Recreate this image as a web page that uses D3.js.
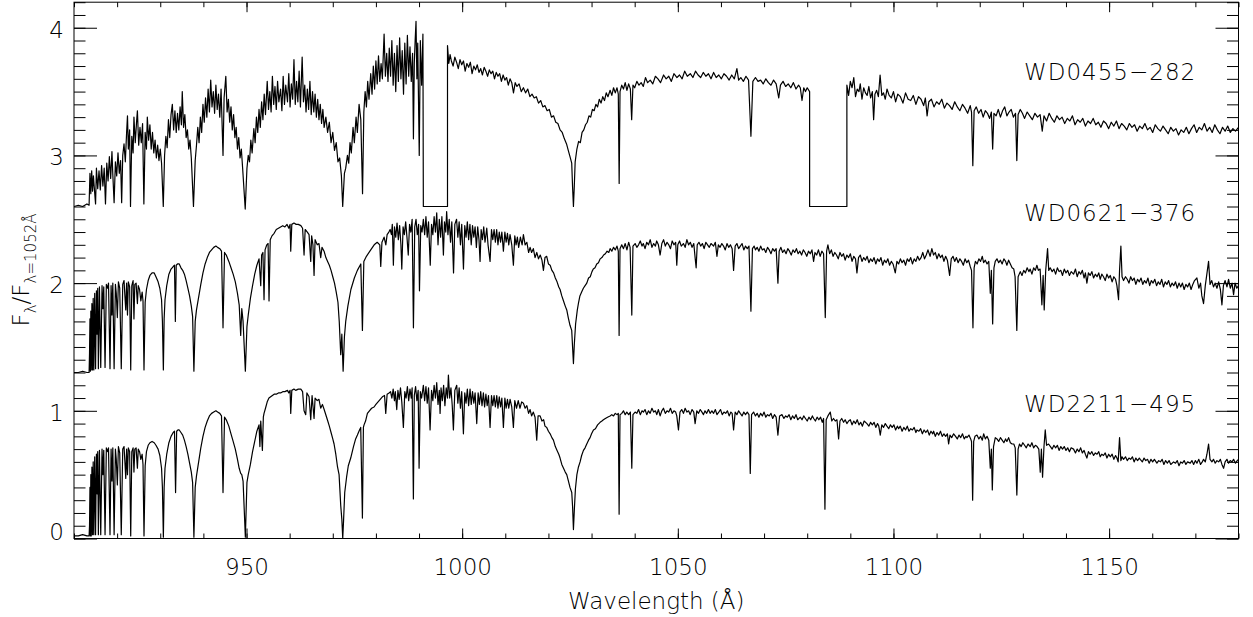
<!DOCTYPE html>
<html>
<head>
<meta charset="utf-8">
<script src="https://cdn.jsdelivr.net/npm/d3@7"></script>
<style>
  html, body { margin: 0; padding: 0; background: #fff; }
  svg { display: block; }
  text { font-family: "DejaVu Sans", sans-serif; font-weight: 200; fill: #000; }
</style>
</head>
<body>
<script>
// wavelength (A), normalised flux
const wd0455 = [
  [910.0,2.60],[911.0,2.61],[912.0,2.60],[913.0,2.62],[913.5,2.61],
  [913.7,2.86],[913.9,2.70],[914.1,2.88],[914.3,2.72],[914.5,2.84],[914.7,2.75],[915.0,2.62],[915.2,2.90],[915.5,2.74],[915.8,2.88],[916.1,2.73],[916.4,2.92],[916.7,2.76],[917.0,2.90],[917.3,2.62],[917.6,2.94],[917.9,2.80],[918.2,2.99],[918.5,2.82],[918.8,3.03],[919.0,2.85],[919.3,2.63],[919.6,2.95],[919.9,2.84],[920.2,3.02],[920.5,2.86],[920.8,2.96],[921.05,2.63],[921.3,3.00],[921.6,3.09],[921.9,2.95],[922.2,3.18],[922.4,3.31],[922.6,3.05],[922.9,3.20],[923.1,2.60],[923.4,3.15],[923.7,3.02],[923.9,3.30],[924.2,3.10],[924.5,3.26],[924.7,3.35],[925.0,3.08],[925.3,3.22],[925.6,3.10],[925.9,3.25],[926.2,2.62],[926.5,3.18],[926.8,3.05],[927.0,3.30],[927.3,3.12],[927.6,3.24],[927.9,3.05],[928.2,3.18],[928.5,3.02],[928.8,3.12],[929.1,2.98],[929.4,3.08],[929.7,2.96],[930.0,3.05],[930.3,2.94],[930.7,2.60],
  [931.0,3.00],[931.3,3.15],[931.6,3.06],[931.9,3.28],[932.2,3.14],[932.5,3.32],[932.8,3.40],[933.1,3.20],[933.4,3.35],[933.7,3.18],[934.0,3.33],[934.3,3.20],[934.6,3.38],[934.9,3.24],[935.1,3.50],[935.4,3.22],[935.7,3.32],[936.0,3.14],[936.3,3.20],[936.6,3.05],[936.9,3.12],[937.2,2.98],[937.7,2.60],
  [938.1,2.96],[938.4,3.08],[938.7,3.22],[939.0,3.10],[939.3,3.30],[939.6,3.18],[939.9,3.40],[940.2,3.26],[940.5,3.45],[940.8,3.30],[941.1,3.52],[941.4,3.34],[941.7,3.59],[942.0,3.38],[942.3,3.50],[942.6,3.33],[942.9,3.55],[943.2,3.36],[943.5,3.48],[943.8,3.30],[944.1,3.52],[944.55,3.00],[944.8,3.45],[945.2,3.62],[945.5,3.34],[945.8,3.44],[946.1,3.26],[946.4,3.38],[946.7,3.20],[947.0,3.32],[947.3,3.14],[947.6,3.22],[947.9,3.05],[948.2,3.14],[948.5,2.98],[948.8,3.05],[949.1,2.90],[949.7,2.58],
  [950.1,2.90],[950.4,3.00],[950.7,2.95],[951.0,3.12],[951.3,3.02],[951.7,3.21],[952.0,3.10],[952.3,3.30],[952.6,3.18],[952.9,3.36],[953.2,3.22],[953.5,3.42],[953.8,3.28],[954.1,3.48],[954.4,3.32],[954.8,3.58],[955.1,3.36],[955.4,3.50],[955.7,3.34],[956.0,3.62],[956.3,3.40],[956.6,3.54],[956.9,3.36],[957.2,3.58],[957.5,3.42],[957.9,3.52],[958.2,3.35],[958.5,3.62],[958.8,3.40],[959.1,3.55],[959.5,3.42],[959.8,3.64],[960.1,3.38],[960.4,3.56],[960.7,3.44],[961.0,3.75],[961.3,3.40],[961.6,3.58],[961.9,3.42],[962.2,3.66],[962.5,3.38],[962.9,3.77],[963.2,3.42],[963.5,3.55],[963.8,3.34],[964.1,3.52],[964.4,3.36],[964.7,3.58],[965.0,3.32],[965.3,3.50],[965.6,3.34],[965.9,3.48],[966.2,3.30],[966.5,3.44],[966.8,3.28],[967.1,3.40],[967.4,3.25],[967.7,3.36],[968.0,3.22],[968.4,3.30],[968.8,3.18],[969.2,3.26],[969.6,3.10],[970.0,3.18],[970.4,3.04],[970.8,3.10],[971.2,2.95],[971.6,2.98],[972.0,2.84],[972.3,2.60],
  [972.7,2.86],[973.0,2.90],[973.4,3.00],[973.7,2.94],[974.0,3.10],[974.3,3.02],[974.7,3.22],[975.0,3.10],[975.4,3.30],[975.7,3.18],[976.1,3.40],[976.5,3.28],[976.9,2.70],[977.2,3.34],[977.5,3.50],[977.8,3.38],[978.1,3.58],[978.4,3.44],[978.8,3.64],[979.1,3.48],[979.4,3.70],[979.7,3.52],[980.0,3.74],[980.3,3.56],[980.6,3.78],[980.9,3.58],[981.2,3.72],[981.5,3.60],[981.9,3.95],[982.2,3.62],[982.5,3.80],[982.8,3.58],[983.1,3.84],[983.4,3.62],[983.7,3.90],[984.0,3.55],[984.3,3.80],[984.6,3.50],[984.9,3.86],[985.2,3.58],[985.5,3.92],[985.8,3.60],[986.1,3.82],[986.4,3.48],[986.7,3.88],[987.0,3.56],[987.3,3.94],[987.6,3.62],[987.9,3.85],[988.2,3.58],[988.5,3.80],[988.7,3.13],[988.9,3.72],[989.1,3.90],[989.3,4.05],[989.5,3.60],[989.7,3.88],[990.05,3.00],[990.3,3.90],[990.6,3.55],[990.9,3.95],
  [991.0,2.60],[996.6,2.60],[996.6,3.86],
  [996.9,3.72],[997.2,3.79],[997.5,3.74],[997.9,3.70],[998.3,3.77],[998.7,3.73],[999.1,3.68],[999.5,3.75],[999.9,3.71],[1000.3,3.74],[1000.7,3.66],[1001.1,3.72],[1001.5,3.69],[1001.9,3.73],[1002.3,3.64],[1002.7,3.70],[1003.1,3.67],[1003.5,3.71],[1003.9,3.65],[1004.3,3.68],[1004.7,3.63],[1005.1,3.69],[1005.5,3.66],[1005.9,3.62],[1006.3,3.67],[1006.7,3.64],[1007.1,3.66],[1007.5,3.60],[1007.9,3.65],[1008.3,3.62],[1008.7,3.64],[1009.1,3.58],[1009.5,3.63],[1009.9,3.59],[1010.3,3.61],[1010.7,3.55],[1011.1,3.60],[1011.5,3.57],[1011.9,3.49],[1012.3,3.57],[1012.7,3.54],[1013.2,3.56],[1013.7,3.50],[1014.2,3.53],[1014.7,3.49],[1015.2,3.52],[1015.7,3.46],[1016.2,3.48],[1016.7,3.45],[1017.2,3.46],[1017.7,3.41],[1018.2,3.43],[1018.7,3.38],[1019.2,3.39],[1019.7,3.35],[1020.2,3.36],[1020.7,3.30],[1021.2,3.31],[1021.7,3.26],[1022.2,3.25],[1022.7,3.20],[1023.2,3.18],[1023.7,3.13],[1024.2,3.09],[1024.6,3.04],[1025.0,2.99],[1025.4,2.94],[1025.6,2.75],[1025.8,2.60],[1026.0,2.76],[1026.2,2.95],
  [1026.6,3.05],[1027.0,3.11],[1027.4,3.10],[1027.8,3.18],[1028.2,3.20],[1028.6,3.24],[1029.0,3.26],[1029.4,3.31],[1029.8,3.30],[1030.2,3.36],[1030.6,3.35],[1031.0,3.40],[1031.4,3.38],[1031.8,3.44],[1032.2,3.41],[1032.6,3.46],[1033.0,3.43],[1033.4,3.49],[1033.8,3.46],[1034.3,3.51],[1034.7,3.47],[1035.1,3.53],[1035.5,3.49],[1035.9,3.53],[1036.2,3.48],[1036.4,2.78],[1036.6,3.50],[1037.0,3.55],[1037.4,3.52],[1037.8,3.57],[1038.2,3.51],[1038.6,3.56],[1039.0,3.52],[1039.3,3.28],[1039.6,3.55],
  [1040.0,3.53],[1040.5,3.58],[1041.0,3.55],[1041.5,3.57],[1042.0,3.54],[1042.5,3.61],[1043.0,3.57],[1043.6,3.59],[1044.2,3.56],[1044.8,3.62],[1045.4,3.60],[1046.0,3.57],[1046.7,3.63],[1047.3,3.60],[1047.9,3.62],[1048.5,3.58],[1049.1,3.64],[1049.8,3.61],[1050.4,3.63],[1051.0,3.60],[1051.6,3.66],[1052.2,3.62],[1052.9,3.64],[1053.5,3.61],[1054.1,3.66],[1054.7,3.63],[1055.3,3.61],[1055.9,3.65],[1056.5,3.62],[1057.1,3.64],[1057.7,3.60],[1058.3,3.65],[1058.9,3.61],[1059.5,3.63],[1060.1,3.60],[1060.7,3.64],[1061.3,3.62],[1061.9,3.59],[1062.5,3.63],[1063.1,3.60],[1063.7,3.68],[1064.1,3.59],[1064.6,3.61],[1065.2,3.58],[1065.8,3.62],[1066.4,3.59],[1066.95,3.15],[1067.4,3.58],[1068.0,3.61],[1068.6,3.58],[1069.2,3.59],[1069.8,3.56],[1070.4,3.60],[1071.0,3.57],[1071.6,3.55],[1072.2,3.59],[1072.8,3.56],[1073.4,3.45],[1073.8,3.55],[1074.4,3.58],[1075.0,3.54],[1075.6,3.56],[1076.2,3.53],[1076.8,3.57],[1077.4,3.52],[1078.0,3.55],[1078.4,3.53],[1078.8,3.43],[1079.2,3.53],[1079.6,3.50],[1080.0,3.53],[1080.56,3.50],
  [1080.56,2.60],[1089.2,2.60],[1089.2,3.55],
  [1089.6,3.47],[1090.0,3.58],[1090.4,3.53],[1090.8,3.61],[1091.2,3.46],[1091.6,3.52],[1092.0,3.50],[1092.3,3.56],[1092.7,3.44],[1093.1,3.53],[1093.5,3.49],[1093.9,3.47],[1094.3,3.54],[1094.7,3.45],[1095.1,3.50],[1095.4,3.28],[1095.7,3.48],[1096.1,3.51],[1096.5,3.46],[1096.9,3.63],[1097.3,3.47],[1097.7,3.49],[1098.1,3.44],[1098.5,3.52],[1099.0,3.47],[1099.5,3.45],[1100.0,3.50],[1100.5,3.42],[1101.0,3.48],[1101.6,3.46],[1102.2,3.41],[1102.8,3.49],[1103.4,3.44],[1104.0,3.43],[1104.6,3.47],[1105.2,3.40],[1105.8,3.46],[1106.4,3.44],[1107.0,3.39],[1107.4,3.45],[1107.8,3.31],[1108.2,3.42],[1108.8,3.44],[1109.4,3.38],[1110.0,3.42],[1110.6,3.40],[1111.2,3.44],[1111.8,3.37],[1112.4,3.41],[1113.0,3.39],[1113.6,3.36],[1114.2,3.42],[1114.8,3.38],[1115.4,3.35],[1116.0,3.40],[1116.6,3.37],[1117.2,3.33],[1117.8,3.39],[1118.1,3.34],[1118.4,2.92],[1118.7,3.35],[1119.2,3.38],[1119.75,3.33],[1120.3,3.36],[1120.8,3.30],[1121.3,3.35],[1121.8,3.33],[1122.3,3.29],[1122.7,3.34],[1123.0,3.05],[1123.3,3.33],[1123.8,3.31],[1124.3,3.36],[1124.8,3.30],
  [1125.3,3.35],[1125.8,3.38],[1126.3,3.31],[1126.8,3.34],[1127.3,3.36],[1127.8,3.30],[1128.3,3.33],[1128.6,2.96],[1128.9,3.32],[1129.4,3.36],[1129.9,3.33],[1130.4,3.29],[1131.0,3.34],[1131.6,3.31],[1132.2,3.28],[1132.8,3.33],[1133.4,3.30],[1134.0,3.32],[1134.5,3.19],[1134.9,3.31],[1135.5,3.27],[1136.1,3.33],[1136.7,3.29],[1137.3,3.26],[1137.9,3.31],[1138.5,3.28],[1139.1,3.30],[1139.7,3.25],[1140.3,3.29],[1140.9,3.27],[1141.5,3.31],[1142.1,3.24],[1142.7,3.28],[1143.3,3.26],[1143.9,3.29],[1144.5,3.23],[1145.1,3.27],[1145.7,3.25],[1146.3,3.29],[1146.9,3.24],[1147.5,3.26],[1148.1,3.22],[1148.7,3.27],[1149.3,3.25],[1149.9,3.21],[1150.5,3.26],[1151.1,3.23],[1151.7,3.27],[1152.3,3.21],[1152.9,3.25],[1153.5,3.23],[1154.1,3.20],[1154.7,3.25],[1155.3,3.22],[1155.9,3.24],[1156.5,3.19],[1157.1,3.23],[1157.7,3.21],[1158.3,3.25],[1158.9,3.20],[1159.5,3.22],[1160.1,3.18],[1160.7,3.24],[1161.3,3.21],[1161.9,3.19],[1162.5,3.23],[1163.1,3.20],[1163.7,3.17],[1164.3,3.22],[1164.9,3.19],[1165.5,3.21],[1166.1,3.16],[1166.7,3.20],[1167.3,3.18],[1167.9,3.22],[1168.5,3.17],[1169.1,3.21],[1169.7,3.24],[1170.3,3.18],[1170.9,3.22],[1171.5,3.20],[1172.1,3.25],[1172.7,3.19],[1173.3,3.22],[1173.9,3.18],[1174.5,3.24],[1175.1,3.20],[1175.7,3.17],[1176.3,3.22],[1176.9,3.19],[1177.5,3.23],[1178.1,3.18],[1178.7,3.21],[1179.3,3.19],[1180.0,3.22]
]

const wd0621 = [
  [910.0,1.30],[911.0,1.30],[912.0,1.31],[913.0,1.30],[913.5,1.30],
  [913.6,1.45],[913.7,1.72],[913.8,1.31],[913.9,1.78],[914.0,1.32],[914.15,1.84],[914.3,1.32],[914.45,1.88],[914.6,1.32],[914.8,1.92],[915.0,1.33],[915.2,1.94],[915.35,1.60],[915.5,1.96],[915.65,1.33],[915.9,1.97],[916.2,1.34],[916.5,1.98],[916.7,1.80],[916.9,1.97],[917.2,1.34],[917.5,1.99],[917.8,1.96],[918.0,2.00],[918.35,1.33],[918.6,1.98],[918.8,1.75],[919.0,2.00],[919.3,1.33],[919.6,1.99],[919.8,1.92],[920.05,1.73],[920.3,2.01],[920.6,1.96],[920.96,1.33],[921.3,1.99],[921.6,2.02],[921.8,1.90],[922.0,1.79],[922.2,2.00],[922.4,1.75],[922.6,2.01],[922.9,1.97],[923.15,1.32],[923.4,1.98],[923.7,2.02],[923.9,1.72],[924.1,1.99],[924.4,2.00],[924.7,1.84],[924.9,1.98],[925.2,1.95],[925.5,1.86],[925.8,1.93],[926.0,1.86],[926.23,1.32],
  [926.5,1.85],[926.8,1.95],[927.2,2.02],[927.6,2.06],[928.1,2.08],[928.6,2.08],[929.0,2.05],[929.5,2.01],[929.9,1.96],[930.3,1.87],[930.5,1.70],[930.72,1.32],[930.9,1.72],[931.1,1.87],[931.5,1.98],[932.0,2.07],[932.5,2.11],[933.0,2.13],[933.3,2.14],[933.5,1.70],[933.7,2.14],[934.0,2.15],[934.4,2.15],[934.8,2.12],[935.2,2.10],[935.6,2.07],[936.0,2.02],[936.4,1.96],[936.8,1.90],[937.2,1.82],[937.5,1.74],[937.8,1.31],
  [938.1,1.70],[938.4,1.79],[938.9,1.89],[939.4,1.99],[939.9,2.08],[940.4,2.15],[940.9,2.20],[941.4,2.24],[941.9,2.26],[942.4,2.28],[942.9,2.29],[943.3,2.28],[943.8,2.27],[944.2,2.25],[944.55,1.65],[944.9,2.24],[945.3,2.22],[945.9,2.17],[946.4,2.12],[946.9,2.07],[947.4,2.01],[947.9,1.92],[948.3,1.83],[948.65,1.59],[948.9,1.80],[949.2,1.70],[949.73,1.31],
  [950.1,1.66],[950.4,1.75],[950.9,1.88],[951.4,1.98],[951.9,2.07],[952.4,2.14],[952.9,2.19],[953.3,1.98],[953.5,2.22],[953.8,2.24],[954.06,1.87],[954.3,2.26],[954.7,2.30],[955.0,2.31],[955.22,1.86],[955.5,2.34],[955.9,2.37],[956.4,2.39],[956.9,2.42],[957.4,2.43],[957.9,2.44],[958.4,2.45],[958.9,2.44],[959.4,2.46],[959.8,2.43],[960.1,2.46],[960.25,2.25],[960.5,2.46],[961.0,2.47],[961.5,2.46],[962.0,2.46],[962.6,2.45],[963.0,2.43],[963.34,2.22],[963.6,2.42],[964.1,2.40],[964.5,2.38],[964.89,2.17],[965.1,2.37],[965.4,2.30],[965.66,2.06],[965.9,2.34],[966.4,2.30],[966.8,2.31],[967.2,2.20],[967.5,2.28],[967.98,2.25],[968.4,2.20],[968.8,2.17],[969.2,2.14],[969.6,2.10],[970.0,2.05],[970.4,2.00],[970.8,1.93],[971.2,1.85],[971.5,1.70],[971.84,1.44],[972.1,1.60],[972.4,1.31],
  [972.7,1.58],[973.0,1.70],[973.5,1.82],[974.2,1.95],[975.0,2.04],[975.7,2.10],[976.5,2.15],[976.87,1.63],[977.2,2.17],[977.8,2.21],[978.8,2.26],[979.6,2.30],[980.3,2.32],[980.9,2.30],[981.12,2.13],[981.4,2.32],[981.9,2.36],[982.3,2.30],[982.6,2.38],[983.0,2.40],[983.3,2.42],
  [983.6,2.38],[983.8,2.46],[984.05,2.14],[984.3,2.44],[984.6,2.36],[984.9,2.47],[985.2,2.34],[985.5,2.45],[985.8,2.30],[986.0,2.11],[986.3,2.44],[986.6,2.38],[986.9,2.48],[987.2,2.36],[987.5,2.22],[987.8,2.46],[988.1,2.40],[988.4,2.50],[988.7,1.65],[989.0,2.44],[989.3,2.50],[989.6,2.38],[989.9,2.46],[990.1,1.94],[990.4,2.45],[990.7,2.40],[991.0,2.50],[991.3,2.38],[991.6,2.52],[991.9,2.36],[992.2,2.48],[992.6,2.14],[992.9,2.46],[993.2,2.38],[993.5,2.52],[993.8,2.40],[994.1,2.55],[994.4,2.30],[994.7,2.50],[995.0,2.36],[995.3,2.52],[995.65,2.22],[995.9,2.48],[996.2,2.40],[996.4,2.56],[996.7,2.38],[997.0,2.50],[997.3,2.32],[997.6,2.48],[998.0,2.08],[998.3,2.46],[998.7,2.50],[999.0,2.36],[999.3,2.48],[999.6,2.30],[999.9,2.46],[1000.3,2.11],[1000.6,2.45],[1000.9,2.36],[1001.2,2.48],[1001.5,2.34],[1001.8,2.46],[1002.1,2.30],[1002.4,2.45],[1002.7,2.36],[1003.0,2.44],[1003.3,2.28],[1003.6,2.44],[1003.9,2.34],[1004.15,2.17],[1004.4,2.42],[1004.7,2.34],[1005.0,2.44],[1005.3,2.32],[1005.7,2.43],[1006.0,2.30],[1006.47,2.17],[1006.8,2.42],[1007.1,2.34],[1007.4,2.42],[1007.7,2.32],[1008.0,2.42],[1008.3,2.30],[1008.6,2.40],[1008.9,2.32],[1009.2,2.40],[1009.56,2.25],[1009.9,2.40],[1010.2,2.32],[1010.5,2.39],[1010.8,2.30],[1011.1,2.38],[1011.5,2.30],[1011.88,2.14],[1012.2,2.37],[1012.5,2.30],[1012.8,2.36],[1013.1,2.28],[1013.5,2.36],[1013.9,2.30],[1014.2,2.38],[1014.6,2.30],[1015.0,2.32],[1015.4,2.24],[1015.75,2.28],[1016.1,2.24],[1016.5,2.27],[1016.9,2.20],[1017.3,2.24],[1017.7,2.19],[1018.1,2.22],[1018.5,2.18],[1018.84,2.10],[1019.2,2.20],[1019.6,2.21],[1020.0,2.15],[1020.4,2.14],[1020.8,2.10],[1021.2,2.08],[1021.6,2.04],[1022.0,2.01],[1022.4,1.97],[1022.7,1.95],[1023.1,1.90],[1023.5,1.86],[1023.9,1.82],[1024.25,1.79],[1024.6,1.73],[1025.0,1.67],[1025.4,1.63],[1025.6,1.50],[1025.8,1.37],
  [1026.0,1.52],[1026.3,1.68],[1026.7,1.79],[1027.0,1.85],[1027.3,1.90],[1027.7,1.93],[1028.1,1.96],[1028.5,1.98],[1028.9,2.00],[1029.3,2.04],[1029.7,2.05],[1030.1,2.09],[1030.4,2.11],[1030.8,2.12],[1031.2,2.15],[1031.6,2.16],[1032.0,2.19],[1032.4,2.20],[1032.8,2.22],[1033.2,2.23],[1033.6,2.25],[1034.0,2.24],[1034.3,2.27],[1034.7,2.25],[1035.1,2.28],[1035.5,2.26],[1035.9,2.29],[1036.2,2.25],[1036.39,1.59],[1036.6,2.27],[1037.0,2.30],[1037.4,2.27],[1037.8,2.31],[1038.2,2.26],[1038.6,2.32],[1038.94,2.28],[1039.33,1.75],
  [1039.6,2.29],[1040.1,2.31],[1040.5,2.28],[1040.9,2.30],[1041.3,2.33],[1041.7,2.29],[1042.0,2.31],[1042.4,2.27],[1042.8,2.32],[1043.2,2.30],[1043.6,2.34],[1044.0,2.28],[1044.4,2.31],[1044.8,2.29],[1045.1,2.33],[1045.5,2.30],[1045.9,2.22],[1046.3,2.31],[1046.7,2.34],[1047.1,2.29],[1047.5,2.32],[1047.9,2.30],[1048.3,2.27],[1048.7,2.33],[1049.1,2.30],[1049.5,2.32],[1049.76,2.14],[1050.0,2.30],[1050.4,2.33],[1050.8,2.29],[1051.3,2.31],[1051.7,2.28],[1052.1,2.34],[1052.5,2.30],[1052.9,2.32],[1053.3,2.28],[1053.7,2.31],[1054.01,2.20],[1054.25,2.12],[1054.5,2.30],[1054.9,2.32],[1055.3,2.29],[1055.7,2.31],[1056.1,2.27],[1056.5,2.32],[1056.9,2.30],[1057.3,2.28],
  [1057.7,2.31],[1058.3,2.29],[1058.7,2.32],[1059.07,2.21],[1059.4,2.30],[1059.8,2.28],[1060.2,2.31],[1060.6,2.29],[1061.0,2.26],[1061.4,2.31],[1061.8,2.28],[1062.2,2.30],[1062.6,2.27],[1062.93,2.10],[1063.3,2.29],[1063.7,2.31],[1064.1,2.27],[1064.5,2.29],[1064.9,2.31],[1065.3,2.26],[1065.7,2.29],[1066.1,2.27],[1066.5,2.29],[1066.95,1.78],[1067.3,2.27],[1067.7,2.29],[1068.0,2.26],[1068.4,2.28],[1068.8,2.25],[1069.2,2.29],[1069.6,2.26],[1070.0,2.27],[1070.4,2.24],[1070.8,2.28],[1071.2,2.26],[1071.6,2.23],[1072.0,2.27],[1072.4,2.25],[1072.8,2.27],[1073.21,2.00],[1073.5,2.25],[1073.9,2.28],[1074.3,2.24],[1074.7,2.26],[1075.1,2.23],[1075.5,2.27],[1075.9,2.25],[1076.3,2.22],[1076.7,2.26],[1077.1,2.24],[1077.5,2.27],[1077.9,2.23],[1078.3,2.25],[1078.7,2.22],[1079.1,2.26],[1079.5,2.24],[1079.9,2.21],[1080.3,2.25],[1080.7,2.23],[1081.1,2.26],[1081.48,2.17],[1081.8,2.24],[1082.2,2.22],[1082.6,2.26],[1083.0,2.21],[1083.4,2.25],[1083.8,2.23],[1084.19,1.73],[1084.5,2.25],[1084.8,2.30],[1085.2,2.23],[1085.6,2.26],[1086.0,2.21],[1086.4,2.24],[1086.8,2.22],[1087.2,2.19],[1087.6,2.24],[1088.0,2.21],[1088.4,2.23],[1088.8,2.18],[1089.2,2.22],[1089.6,2.20],[1090.0,2.23],[1090.4,2.17],[1090.8,2.21],[1091.2,2.19],[1091.53,2.08],[1091.9,2.20],[1092.3,2.22],[1092.7,2.17],[1093.1,2.20],[1093.5,2.18],[1093.9,2.21],[1094.3,2.16],[1094.7,2.19],[1095.1,2.17],[1095.5,2.20],[1095.9,2.15],[1096.3,2.19],[1096.7,2.17],[1097.1,2.20],[1097.5,2.14],[1097.9,2.18],[1098.3,2.16],[1098.7,2.19],[1099.1,2.14],[1099.5,2.17],[1099.9,2.15],[1100.42,2.08],[1100.8,2.17],[1101.2,2.15],[1101.6,2.19],[1102.0,2.16],[1102.4,2.18],[1102.8,2.14],[1103.2,2.19],[1103.6,2.17],[1104.0,2.20],[1104.4,2.15],[1104.8,2.19],[1105.2,2.17],[1105.6,2.21],[1106.0,2.18],[1106.4,2.20],[1106.8,2.24],[1107.2,2.19],[1107.6,2.22],[1108.0,2.26],[1108.5,2.21],[1108.9,2.27],[1109.3,2.22],[1109.7,2.24],[1110.1,2.19],[1110.5,2.23],[1110.9,2.20],[1111.3,2.22],[1111.7,2.17],[1112.1,2.21],[1112.5,2.18],[1113.02,2.06],[1113.4,2.19],[1113.8,2.21],[1114.2,2.17],[1114.6,2.20],[1115.0,2.16],[1115.4,2.19],[1115.8,2.17],[1116.2,2.14],[1116.6,2.19],[1117.0,2.16],[1117.4,2.18],[1117.8,2.13],[1118.1,2.10],[1118.43,1.65],[1118.7,2.12],[1119.0,2.17],[1119.4,2.15],[1119.8,2.19],[1120.2,2.17],[1120.6,2.21],[1120.9,2.16],[1121.3,2.18],[1121.7,2.15],[1122.1,2.17],[1122.45,1.92],[1122.7,2.10],[1123.0,1.68],[1123.3,2.12],[1123.6,2.17],
  [1124.0,2.19],[1124.4,2.16],[1124.8,2.18],[1125.2,2.15],[1125.6,2.19],[1126.0,2.17],[1126.3,2.14],[1126.7,2.18],[1127.1,2.15],[1127.5,2.12],[1127.9,2.11],[1128.2,2.05],[1128.6,1.63],[1128.9,2.05],[1129.4,2.09],[1129.8,2.06],[1130.2,2.10],[1130.6,2.08],[1131.0,2.12],[1131.4,2.09],[1131.7,2.11],[1132.1,2.07],[1132.5,2.12],[1132.9,2.10],[1133.25,2.14],[1133.6,2.10],[1134.0,2.11],[1134.41,1.83],[1134.7,2.06],[1134.95,1.79],[1135.3,2.10],[1135.73,2.27],[1136.0,2.10],[1136.34,2.12],[1136.8,2.09],[1137.2,2.11],[1137.6,2.07],[1138.0,2.12],[1138.4,2.09],[1138.8,2.10],[1139.2,2.06],[1139.6,2.11],[1140.0,2.08],[1140.4,2.10],[1140.8,2.06],[1141.2,2.09],[1141.76,2.07],[1142.2,2.11],[1142.6,2.05],[1143.0,2.09],[1143.4,2.07],[1143.8,2.10],[1144.2,2.04],[1144.5,2.08],[1144.85,2.00],[1145.2,2.08],[1145.6,2.06],[1146.0,2.09],[1146.4,2.04],[1146.8,2.07],[1147.2,2.05],[1147.6,2.08],[1147.94,2.03],[1148.3,2.07],[1148.7,2.05],[1149.1,2.02],[1149.5,2.07],[1149.9,2.04],[1150.26,2.06],[1150.7,2.01],[1151.1,2.05],[1151.5,2.03],[1151.81,1.98],[1152.19,1.87],[1152.42,2.10],[1152.73,2.29],[1153.0,2.05],[1153.35,2.02],[1153.8,2.05],[1154.2,2.03],[1154.6,2.00],[1155.0,2.05],[1155.4,2.02],[1155.8,2.04],[1156.2,1.99],[1156.6,2.03],[1157.0,2.01],[1157.4,2.04],[1157.8,1.99],[1158.2,2.02],[1158.6,2.00],[1159.0,2.04],[1159.4,1.98],[1159.8,2.02],[1160.2,2.00],[1160.6,2.03],[1161.0,1.98],[1161.4,2.01],[1161.8,1.99],[1162.2,2.03],[1162.6,1.97],[1163.0,2.01],[1163.4,1.99],[1163.8,2.02],[1164.2,1.97],[1164.6,2.00],[1165.0,1.98],[1165.4,2.01],[1165.8,1.96],[1166.2,2.00],[1166.6,1.97],[1167.0,2.00],[1167.4,1.95],[1167.8,1.99],[1168.2,1.97],[1168.6,2.00],[1169.0,1.95],[1169.4,1.99],[1169.8,2.02],[1170.36,2.04],[1170.8,1.96],[1171.2,2.00],[1171.5,1.90],[1171.9,1.84],[1172.3,1.98],[1172.7,2.08],[1173.06,2.17],[1173.4,1.99],[1173.8,2.02],[1174.2,1.97],[1174.6,2.00],[1175.0,1.96],[1175.4,2.01],[1175.8,1.95],[1176.16,1.83],[1176.5,1.98],[1176.9,2.02],[1177.32,1.97],[1177.7,2.03],[1178.1,1.96],[1178.5,2.00],[1178.86,1.91],[1179.2,2.00],[1179.6,1.96],[1180.0,1.98]
]

const wd2211 = [
  [910.0,0.02],[911.0,0.02],[912.0,0.03],[913.0,0.02],[913.5,0.02],
  [913.6,0.10],[913.7,0.40],[913.8,0.02],[913.9,0.50],[914.0,0.02],[914.15,0.56],[914.3,0.03],[914.45,0.60],[914.6,0.03],[914.8,0.64],[915.0,0.03],[915.2,0.66],[915.35,0.35],[915.5,0.68],[915.65,0.03],[915.9,0.69],[916.2,0.03],[916.5,0.70],[916.7,0.50],[916.9,0.69],[917.2,0.03],[917.5,0.71],[917.8,0.68],[918.0,0.71],[918.35,0.03],[918.6,0.70],[918.8,0.45],[919.0,0.71],[919.3,0.03],[919.6,0.70],[919.8,0.62],[920.05,0.42],[920.3,0.72],[920.6,0.67],[920.96,0.03],[921.3,0.70],[921.6,0.72],[921.8,0.60],[922.0,0.47],[922.2,0.70],[922.4,0.50],[922.6,0.71],[922.9,0.68],[923.15,0.02],[923.4,0.68],[923.7,0.71],[923.9,0.52],[924.1,0.70],[924.4,0.71],[924.7,0.55],[924.9,0.70],[925.2,0.68],[925.5,0.62],[925.8,0.66],[926.0,0.58],[926.23,0.02],
  [926.5,0.57],[926.8,0.68],[927.2,0.73],[927.6,0.75],[928.1,0.76],[928.6,0.75],[929.0,0.73],[929.5,0.70],[929.9,0.65],[930.3,0.55],[930.5,0.40],[930.72,0.01],[930.9,0.40],[931.1,0.55],[931.5,0.66],[932.0,0.75],[932.5,0.80],[933.0,0.83],[933.3,0.84],[933.55,0.36],[933.8,0.84],[934.1,0.85],[934.4,0.85],[934.8,0.83],[935.2,0.81],[935.6,0.77],[936.0,0.72],[936.4,0.66],[936.8,0.59],[937.2,0.52],[937.5,0.44],[937.8,0.01],
  [938.1,0.40],[938.4,0.49],[938.9,0.60],[939.4,0.71],[939.9,0.80],[940.4,0.87],[940.9,0.92],[941.4,0.96],[941.9,0.98],[942.4,0.99],[942.9,1.00],[943.3,0.99],[943.8,0.98],[944.2,0.96],[944.55,0.36],[944.9,0.95],[945.3,0.93],[945.9,0.88],[946.4,0.82],[946.9,0.76],[947.4,0.70],[947.9,0.62],[948.3,0.55],[948.65,0.51],[948.9,0.50],[949.2,0.45],[949.73,0.01],
  [950.1,0.44],[950.4,0.50],[950.9,0.58],[951.4,0.68],[951.9,0.76],[952.4,0.84],[952.9,0.89],[953.1,0.72],[953.3,0.92],[953.68,0.69],[953.9,0.95],[954.06,0.98],[954.4,1.02],[954.8,1.07],[955.2,1.10],[955.6,1.11],[956.0,1.12],[956.4,1.13],[956.9,1.13],[957.4,1.14],[957.9,1.14],[958.4,1.15],[958.9,1.15],[959.5,1.16],[959.8,1.14],[960.1,1.16],[960.25,0.98],[960.5,1.16],[961.0,1.17],[961.4,1.16],[962.0,1.17],[962.6,1.17],[963.0,1.15],[963.34,1.00],[963.73,0.97],[964.0,1.14],[964.5,1.11],[964.89,0.93],[965.2,1.12],[965.66,0.94],[965.9,1.10],[966.4,1.08],[966.8,1.09],[967.2,1.02],[967.6,1.05],[968.0,1.01],[968.75,0.93],[969.2,0.88],[969.6,0.83],[970.0,0.78],[970.3,0.74],[970.7,0.66],[971.1,0.56],[971.46,0.50],[971.84,0.26],[972.1,0.15],[972.31,0.00],
  [972.5,0.14],[972.77,0.36],[973.2,0.48],[973.6,0.57],[974.16,0.63],[974.8,0.72],[975.3,0.78],[975.71,0.81],[976.2,0.85],[976.48,0.87],[976.87,0.16],[977.1,0.87],[977.25,0.89],[977.6,0.92],[978.03,0.98],[978.5,1.00],[979.0,1.02],[979.57,1.03],[980.0,1.05],[980.5,1.07],[981.0,1.09],[981.5,1.11],[982.0,1.12],[982.28,0.98],[982.6,1.13],[983.05,1.14],[983.4,1.15],
  [983.7,1.10],[984.0,1.17],[984.3,1.08],[984.5,1.15],[984.83,1.01],[985.1,1.16],[985.4,1.09],[985.7,1.18],[986.0,1.07],[986.37,0.87],[986.7,1.15],[987.0,1.10],[987.3,1.19],[987.6,1.08],[987.9,1.17],[988.2,1.10],[988.4,1.18],[988.69,0.31],[988.9,1.12],[989.2,1.19],[989.5,1.08],[989.8,1.16],[990.01,0.55],[990.3,1.15],[990.6,1.10],[991.0,1.20],[991.3,1.08],[991.6,1.19],[991.9,1.06],[992.2,1.18],[992.56,0.85],[992.9,1.16],[993.2,1.08],[993.5,1.20],[993.8,1.10],[994.1,1.22],[994.4,1.05],[994.7,1.16],[994.88,0.98],[995.1,1.18],[995.4,1.08],[995.7,1.20],[996.0,1.04],[996.3,1.18],[996.6,1.10],[996.81,1.28],[997.1,1.10],[997.4,1.18],[997.7,1.04],[997.97,0.85],[998.3,1.16],[998.74,1.20],[999.0,1.06],[999.3,1.18],[999.6,1.02],[999.9,1.15],[1000.29,0.82],[1000.6,1.14],[1000.9,1.06],[1001.2,1.17],[1001.5,1.04],[1001.83,1.17],[1002.1,1.05],[1002.4,1.15],[1002.7,1.06],[1003.0,1.14],[1003.38,0.90],[1003.7,1.14],[1004.0,1.05],[1004.3,1.15],[1004.6,1.04],[1004.92,1.14],[1005.2,1.03],[1005.5,1.13],[1005.8,1.04],[1006.1,1.12],[1006.47,0.87],[1006.8,1.12],[1007.1,1.04],[1007.4,1.12],[1007.7,1.03],[1008.02,1.12],[1008.3,1.02],[1008.6,1.11],[1008.9,1.03],[1009.2,1.10],[1009.56,0.87],[1009.9,1.10],[1010.2,1.02],[1010.5,1.09],[1010.8,1.02],[1011.11,1.09],[1011.5,1.03],[1011.88,0.87],[1012.2,1.08],[1012.6,1.02],[1013.0,1.08],[1013.4,1.02],[1013.8,1.07],[1014.2,1.06],[1014.6,1.02],[1015.0,1.04],[1015.4,0.98],[1015.75,1.01],[1016.1,0.96],[1016.5,0.99],[1016.9,0.95],[1017.29,0.77],[1017.6,0.96],[1018.07,0.96],[1018.5,0.92],[1018.9,0.93],[1019.2,0.88],[1019.61,0.87],[1020.0,0.84],[1020.4,0.82],[1020.8,0.79],[1021.16,0.77],[1021.6,0.72],[1022.0,0.69],[1022.4,0.66],[1022.7,0.63],[1023.1,0.58],[1023.5,0.55],[1023.9,0.52],[1024.25,0.50],[1024.64,0.45],[1025.0,0.40],[1025.41,0.36],[1025.6,0.25],[1025.8,0.07],
  [1026.0,0.22],[1026.26,0.39],[1026.6,0.50],[1026.96,0.56],[1027.34,0.60],[1027.7,0.65],[1028.12,0.69],[1028.5,0.71],[1028.89,0.74],[1029.3,0.77],[1029.66,0.79],[1030.0,0.82],[1030.44,0.85],[1030.9,0.86],[1031.4,0.89],[1031.98,0.91],[1032.4,0.92],[1032.75,0.93],[1033.2,0.94],[1033.7,0.95],[1034.3,0.96],[1034.69,0.97],[1035.1,0.96],[1035.5,0.98],[1035.9,0.97],[1036.2,0.98],[1036.39,0.19],[1036.6,0.97],[1037.01,0.98],[1037.4,1.00],[1037.8,0.97],[1038.17,0.99],[1038.6,0.97],[1039.0,0.99],[1039.33,0.55],
  [1039.6,0.97],[1040.1,0.99],[1040.5,0.98],[1040.9,1.01],[1041.3,0.97],[1041.7,1.00],[1042.03,0.99],[1042.4,1.01],[1042.8,0.97],[1043.2,1.00],[1043.58,0.98],[1044.0,1.02],[1044.4,0.99],[1044.8,1.00],[1045.12,0.97],[1045.5,1.01],[1045.9,0.96],[1046.3,1.00],[1046.67,1.02],[1047.1,0.98],[1047.5,1.00],[1047.9,0.99],[1048.3,1.02],[1048.7,0.98],[1049.1,1.00],[1049.5,0.99],[1049.76,0.96],[1050.15,0.85],[1050.5,0.99],[1050.9,1.01],[1051.31,0.98],[1051.7,1.02],[1052.1,0.99],[1052.5,1.00],[1052.86,0.97],[1053.3,1.01],[1053.7,0.99],[1054.01,0.90],[1054.4,1.00],[1054.8,0.98],[1055.2,1.01],[1055.6,0.99],[1055.95,0.97],[1056.3,1.00],[1056.7,0.98],[1057.1,1.01],[1057.49,0.98],
  [1057.9,1.00],[1058.3,0.98],[1058.7,1.01],[1059.07,0.97],[1059.5,0.99],[1059.9,1.01],[1060.3,0.97],[1060.7,0.99],[1061.1,0.98],[1061.5,1.00],[1061.9,0.96],[1062.3,0.99],[1062.6,0.98],[1062.93,0.85],[1063.3,0.99],[1063.7,0.97],[1064.1,1.00],[1064.48,0.98],[1064.9,0.96],[1065.3,0.99],[1065.7,0.97],[1066.1,0.99],[1066.5,0.97],[1066.8,0.51],[1067.1,0.97],[1067.57,0.99],[1068.0,0.96],[1068.4,0.98],[1068.8,0.95],[1069.2,0.98],[1069.6,0.96],[1070.0,0.99],[1070.4,0.95],[1070.8,0.97],[1071.2,0.96],[1071.6,0.98],[1072.0,0.94],[1072.4,0.97],[1072.8,0.95],[1073.21,0.81],[1073.6,0.96],[1074.14,0.97],[1074.6,0.94],[1075.0,0.96],[1075.4,0.95],[1075.8,0.97],[1076.2,0.93],[1076.6,0.96],[1077.0,0.94],[1077.4,0.97],[1077.8,0.93],[1078.39,0.95],[1078.8,0.93],[1079.2,0.96],[1079.6,0.94],[1080.0,0.92],[1080.4,0.95],[1080.8,0.93],[1081.2,0.96],[1081.5,0.94],[1081.9,0.92],[1082.3,0.95],[1082.7,0.93],[1083.1,0.95],[1083.5,0.91],[1083.8,0.94],[1084.11,0.23],[1084.4,0.93],[1084.8,0.96],[1085.35,0.99],[1085.7,0.92],[1086.1,0.94],[1086.5,0.92],[1086.9,0.93],[1087.28,0.78],[1087.6,0.92],[1088.0,0.94],[1088.44,0.91],[1088.8,0.93],[1089.2,0.90],[1089.6,0.92],[1090.0,0.93],[1090.4,0.89],[1090.8,0.92],[1091.2,0.90],[1091.6,0.93],[1092.0,0.89],[1092.4,0.91],[1092.8,0.88],[1093.2,0.92],[1093.85,0.90],[1094.3,0.88],[1094.7,0.91],[1095.1,0.89],[1095.5,0.91],[1095.9,0.87],[1096.3,0.90],[1096.6,0.88],[1096.94,0.81],[1097.3,0.89],[1097.7,0.87],[1098.1,0.90],[1098.49,0.88],[1098.9,0.86],[1099.3,0.89],[1099.7,0.87],[1100.1,0.89],[1100.5,0.85],[1100.9,0.88],[1101.2,0.86],[1101.58,0.88],[1102.0,0.84],[1102.4,0.87],[1102.8,0.85],[1103.2,0.88],[1103.6,0.84],[1104.0,0.86],[1104.4,0.85],[1104.8,0.87],[1105.2,0.83],[1105.45,0.85],[1105.9,0.84],[1106.3,0.86],[1106.7,0.82],[1107.1,0.85],[1107.5,0.83],[1107.9,0.85],[1108.3,0.81],[1108.7,0.84],[1109.1,0.82],[1109.31,0.84],[1109.7,0.80],[1110.1,0.83],[1110.5,0.81],[1110.9,0.84],[1111.3,0.80],[1111.7,0.82],[1112.1,0.80],[1112.5,0.82],[1112.79,0.74],[1113.1,0.81],[1113.5,0.79],[1113.95,0.82],[1114.4,0.80],[1114.8,0.78],[1115.2,0.81],[1115.6,0.79],[1116.0,0.82],[1116.4,0.78],[1116.8,0.80],[1117.04,0.79],[1117.5,0.81],[1117.9,0.78],[1118.1,0.76],[1118.36,0.30],[1118.6,0.76],[1118.9,0.80],[1119.36,0.81],[1119.8,0.78],[1120.2,0.80],[1120.6,0.77],[1120.91,0.82],[1121.3,0.78],[1121.7,0.80],[1122.1,0.77],[1122.45,0.55],[1122.7,0.70],[1122.92,0.38],[1123.2,0.72],[1123.61,0.79],
  [1124.0,0.78],[1124.4,0.76],[1124.8,0.79],[1125.2,0.77],[1125.6,0.75],[1126.0,0.78],[1126.3,0.76],[1126.7,0.79],[1127.1,0.75],[1127.5,0.74],[1127.9,0.74],[1128.23,0.71],[1128.61,0.34],[1128.9,0.70],[1129.23,0.74],[1129.6,0.72],[1130.0,0.75],[1130.4,0.73],[1130.8,0.71],[1131.2,0.74],[1131.71,0.72],[1132.1,0.75],[1132.5,0.71],[1132.9,0.73],[1133.3,0.72],[1133.7,0.70],[1134.03,0.52],[1134.3,0.70],[1134.57,0.48],[1134.9,0.72],[1135.19,0.85],[1135.5,0.73],[1135.96,0.74],[1136.4,0.72],[1136.8,0.70],[1137.2,0.73],[1137.6,0.71],[1138.0,0.73],[1138.4,0.69],[1138.8,0.72],[1139.2,0.70],[1139.6,0.72],[1140.0,0.69],[1140.4,0.71],[1140.8,0.68],[1141.2,0.71],[1141.76,0.70],[1142.2,0.67],[1142.6,0.70],[1143.0,0.68],[1143.4,0.71],[1143.8,0.67],[1144.2,0.69],[1144.5,0.66],[1144.85,0.63],[1145.2,0.68],[1145.6,0.66],[1146.0,0.68],[1146.4,0.65],[1146.8,0.67],[1147.2,0.66],[1147.6,0.68],[1147.94,0.64],[1148.3,0.66],[1148.7,0.65],[1149.1,0.67],[1149.5,0.63],[1149.9,0.66],[1150.26,0.64],[1150.7,0.66],[1151.1,0.62],[1151.5,0.65],[1151.81,0.63],[1152.1,0.60],[1152.42,0.79],[1152.73,0.61],[1153.0,0.64],[1153.35,0.62],[1153.8,0.64],[1154.2,0.61],[1154.6,0.63],[1155.0,0.62],[1155.4,0.64],[1155.8,0.60],[1156.2,0.63],[1156.6,0.61],[1157.0,0.63],[1157.22,0.62],[1157.7,0.60],[1158.1,0.63],[1158.5,0.61],[1158.9,0.62],[1159.3,0.59],[1159.7,0.62],[1160.1,0.60],[1160.5,0.62],[1161.08,0.59],[1161.5,0.61],[1161.9,0.60],[1162.3,0.62],[1162.7,0.58],[1163.1,0.61],[1163.5,0.59],[1163.9,0.61],[1164.3,0.58],[1164.95,0.60],[1165.4,0.59],[1165.8,0.61],[1166.2,0.57],[1166.6,0.60],[1167.0,0.59],[1167.4,0.61],[1167.8,0.58],[1168.2,0.60],[1168.81,0.59],[1169.2,0.61],[1169.6,0.58],[1170.0,0.61],[1170.36,0.59],[1170.8,0.62],[1171.2,0.58],[1171.6,0.60],[1171.9,0.62],[1172.3,0.60],[1172.68,0.66],[1173.06,0.74],[1173.4,0.62],[1173.84,0.60],[1174.2,0.62],[1174.6,0.59],[1175.0,0.61],[1175.4,0.60],[1175.8,0.62],[1176.16,0.58],[1176.54,0.55],[1176.9,0.60],[1177.32,0.62],[1177.7,0.59],[1178.09,0.61],[1178.5,0.60],[1178.86,0.62],[1179.3,0.59],[1179.7,0.61],[1180.0,0.62]
]

const starNames = ['WD0455\u2212282', 'WD0621\u2212376', 'WD2211\u2212495']
const labelFlux = [3.59, 2.49, 0.99]   // baseline height of each star label
const xMajor = [950, 1000, 1050, 1100, 1150]
const xMinor = d3.range(910, 1181, 10)
const yMajor = [0, 1, 2, 3, 4]
const yMinor = d3.range(0, 4.21, 0.1)

const W = 1253, H = 617
const plotL = 74, plotR = 1238.5, plotT = 2.2, plotB = 538.5

const svg = d3.select('body').append('svg')
    .attr('width', W)
    .attr('height', H)

const x = d3.scaleLinear().domain([910, 1180]).range([plotL, plotR])
const y = d3.scaleLinear().domain([0, 4.2]).range([plotB, plotT])

svg.append('clipPath').attr('id', 'plot')
    .append('rect')
    .attr('x', plotL).attr('y', plotT)
    .attr('width', plotR - plotL).attr('height', plotB - plotT)

const line = d3.line()
    .x(d => x(d[0]))
    .y(d => y(d[1]))

svg.append('g')
    .attr('clip-path', 'url(#plot)')
    .selectAll('path')
    .data([wd0455, wd0621, wd2211])
    .enter().append('path')
    .attr('d', line)
    .attr('fill', 'none')
    .attr('stroke', '#000')
    .attr('stroke-width', 1.2)
    .attr('stroke-linejoin', 'round')

// inward ticks on all four sides, IDL style
function ticks(axis, tx, ty) {
    const g = svg.append('g')
        .attr('transform', `translate(${tx},${ty})`)
        .call(axis)
        .attr('font-family', null)
        .attr('font-size', null)
    g.select('.domain').remove()
    g.selectAll('line').attr('stroke', '#000').attr('stroke-width', 1)
    return g
}

ticks(d3.axisBottom(x).tickValues(xMinor).tickSize(-5).tickFormat(''), 0, plotB)
ticks(d3.axisTop(x).tickValues(xMinor).tickSize(-5).tickFormat(''), 0, plotT)
ticks(d3.axisTop(x).tickValues(xMajor).tickSize(-10).tickFormat(''), 0, plotT)
ticks(d3.axisLeft(y).tickValues(yMinor).tickSize(-11.5).tickFormat(''), plotL, 0)
ticks(d3.axisRight(y).tickValues(yMinor).tickSize(-11.5).tickFormat(''), plotR, 0)
ticks(d3.axisRight(y).tickValues(yMajor).tickSize(-23).tickFormat(''), plotR, 0)

const xAxis = ticks(d3.axisBottom(x).tickValues(xMajor).tickSize(-10).tickPadding(0).tickFormat(d3.format('d')), 0, plotB)
xAxis.selectAll('text')
    .attr('y', 36.5).attr('dy', null)
    .style('font-size', '23px')

const yAxis = ticks(d3.axisLeft(y).tickValues(yMajor).tickSize(-23).tickPadding(0).tickFormat(d3.format('d')), plotL, 0)
yAxis.selectAll('text')
    .attr('x', -10)
    .attr('dy', d => d === 0 ? 1 : 9.5)
    .style('font-size', '23px')

svg.append('rect')
    .attr('x', plotL).attr('y', plotT)
    .attr('width', plotR - plotL).attr('height', plotB - plotT)
    .attr('fill', 'none')
    .attr('stroke', '#000')
    .attr('stroke-width', 1)

svg.selectAll('.star')
    .data(starNames)
    .enter().append('text')
    .attr('class', 'star')
    .attr('x', 1024)
    .attr('y', (d, i) => y(labelFlux[i]))
    .style('font-size', '23px')
    .style('letter-spacing', '1px')
    .text(d => d)

svg.append('text')
    .attr('x', (plotL + plotR) / 2)
    .attr('y', 609)
    .attr('text-anchor', 'middle')
    .style('font-size', '23px')
    .text('Wavelength (\u00c5)')

const yt = svg.append('text')
    .attr('transform', 'translate(29,270) rotate(-90)')
    .attr('text-anchor', 'middle')
    .style('font-size', '23px')
yt.append('tspan').text('F')
yt.append('tspan').attr('dy', 7).style('font-size', '15px').text('\u03bb')
yt.append('tspan').attr('dy', -7).text('/F')
yt.append('tspan').attr('dy', 7).style('font-size', '15px').text('\u03bb=1052\u00c5')
</script>
</body>
</html>
